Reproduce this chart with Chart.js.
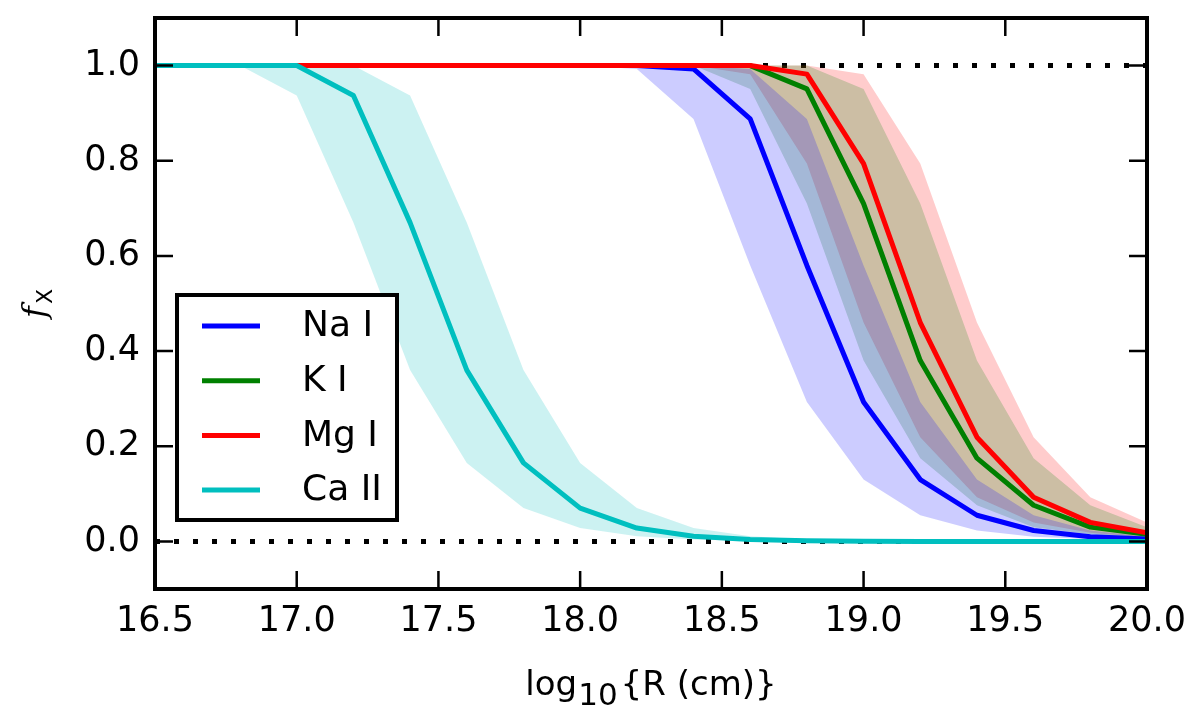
<!DOCTYPE html>
<html>
<head>
<meta charset="utf-8">
<script src="https://cdn.jsdelivr.net/npm/chart.js@4.4.0/dist/chart.umd.min.js"></script>
<style>
  html, body { margin: 0; padding: 0; background: #fff; }
  #chart { display: block; }
</style>
</head>
<body>
<canvas id="chart" width="1200" height="722"></canvas>
<script>
// log10 R grid (step 0.2)
const logR = [16.4, 16.6, 16.8, 17.0, 17.2, 17.4, 17.6, 17.8, 18.0, 18.2,
              18.4, 18.6, 18.8, 19.0, 19.2, 19.4, 19.6, 19.8, 20.0];

// ionisation fraction per species, with lower / upper edge of the shaded band
const naI   = [1, 1, 1, 1, 1, 1, 1, 1, 1, 1, 0.993, 0.888, 0.58, 0.293, 0.13, 0.055, 0.023, 0.01, 0.005];
const naLo  = [1, 1, 1, 1, 1, 1, 1, 1, 1, 0.993, 0.888, 0.58, 0.293, 0.13, 0.055, 0.023, 0.01, 0.005, 0.002];
const naHi  = [1, 1, 1, 1, 1, 1, 1, 1, 1, 1, 1, 0.993, 0.888, 0.58, 0.293, 0.13, 0.055, 0.023, 0.01];

const kI    = [1, 1, 1, 1, 1, 1, 1, 1, 1, 1, 1, 1, 0.951, 0.71, 0.38, 0.175, 0.076, 0.03, 0.015];
const kLo   = [1, 1, 1, 1, 1, 1, 1, 1, 1, 1, 1, 0.951, 0.71, 0.38, 0.175, 0.076, 0.03, 0.015, 0.007];
const kHi   = [1, 1, 1, 1, 1, 1, 1, 1, 1, 1, 1, 1, 1, 0.951, 0.71, 0.38, 0.175, 0.076, 0.03];

const mgI   = [1, 1, 1, 1, 1, 1, 1, 1, 1, 1, 1, 1, 0.982, 0.794, 0.46, 0.219, 0.093, 0.04, 0.018];
const mgLo  = [1, 1, 1, 1, 1, 1, 1, 1, 1, 1, 1, 0.982, 0.794, 0.46, 0.219, 0.093, 0.04, 0.018, 0.008];
const mgHi  = [1, 1, 1, 1, 1, 1, 1, 1, 1, 1, 1, 1, 1, 0.982, 0.794, 0.46, 0.219, 0.093, 0.04];

const caII  = [1, 1, 1, 1, 0.937, 0.67, 0.36, 0.165, 0.07, 0.028, 0.011, 0.004, 0.0015, 0.0005, 0, 0, 0, 0, 0];
const caLo  = [1, 1, 1, 0.937, 0.67, 0.36, 0.165, 0.07, 0.028, 0.011, 0.004, 0.0015, 0.0005, 0, 0, 0, 0, 0, 0];
const caHi  = [1, 1, 1, 1, 1, 0.937, 0.67, 0.36, 0.165, 0.07, 0.028, 0.011, 0.004, 0.0015, 0.0005, 0, 0, 0, 0];

const refLevels = [0, 1];
const xTicks = [16.5, 17.0, 17.5, 18.0, 18.5, 19.0, 19.5, 20.0];
const yTicks = [0.0, 0.2, 0.4, 0.6, 0.8, 1.0];

const pts = vals => logR.map((x, i) => ({ x: x, y: vals[i] }));

// later entries are drawn on top (lower order)
const species = [
  { label: 'Na I',  line: naI,  lo: naLo, hi: naHi, color: '#0000ff', band: 'rgba(0,0,255,0.2)',   order: 3.0 },
  { label: 'K I',   line: kI,   lo: kLo,  hi: kHi,  color: '#008000', band: 'rgba(0,128,0,0.2)',   order: 2.8 },
  { label: 'Mg I',  line: mgI,  lo: mgLo, hi: mgHi, color: '#ff0000', band: 'rgba(255,0,0,0.2)',   order: 2.6 },
  { label: 'Ca II', line: caII, lo: caLo, hi: caHi, color: '#00bfbf', band: 'rgba(0,191,191,0.2)', order: 1.0 }
];

const datasets = [];
refLevels.forEach(lv => {
  datasets.push({
    data: [{ x: xTicks[0], y: lv }, { x: xTicks[xTicks.length - 1], y: lv }],
    borderColor: '#000', borderWidth: 5, borderDash: [5, 14], borderCapStyle: 'butt',
    pointRadius: 0, fill: false, order: 6
  });
});
species.forEach(s => {
  const loIdx = datasets.length;
  datasets.push({ data: pts(s.lo), borderWidth: 0, pointRadius: 0, fill: false, order: 4 });
  datasets.push({ data: pts(s.hi), borderWidth: 0, pointRadius: 0, backgroundColor: s.band, fill: loIdx, order: 4 });
});
species.forEach(s => {
  datasets.push({
    label: s.label, inLegend: true, data: pts(s.line),
    borderColor: s.color, borderWidth: 5, borderJoinStyle: 'round',
    pointRadius: 0, fill: false, order: s.order
  });
});

const legendBox = {
  id: 'legendBox',
  afterDatasetsDraw(chart) {
    const { ctx, chartArea: a } = chart;
    const items = chart.data.datasets.filter(d => d.inLegend);
    const left = a.left + 22, top = a.top + 277, w = 220, h = 225;
    ctx.save();
    ctx.fillStyle = '#fff';
    ctx.fillRect(left, top, w, h);
    ctx.lineWidth = 4;
    ctx.strokeStyle = '#000';
    ctx.strokeRect(left, top, w, h);
    ctx.font = '36px "DejaVu Sans"';
    ctx.textBaseline = 'middle';
    items.forEach((d, i) => {
      const yy = top + 31 + i * 54.7;
      ctx.strokeStyle = d.borderColor;
      ctx.lineWidth = 5;
      ctx.beginPath();
      ctx.moveTo(left + 25, yy);
      ctx.lineTo(left + 83, yy);
      ctx.stroke();
      ctx.fillStyle = '#000';
      ctx.fillText(d.label, left + 125, yy + 1);
    });
    ctx.restore();
  }
};

const frameAndTitles = {
  id: 'frameAndTitles',
  afterDraw(chart) {
    const { ctx, chartArea: a, scales: { x, y } } = chart;
    ctx.save();
    ctx.strokeStyle = '#000';
    ctx.lineWidth = 2.5;
    ctx.beginPath();
    xTicks.forEach(v => {
      const px = x.getPixelForValue(v);
      ctx.moveTo(px, a.bottom); ctx.lineTo(px, a.bottom - 18);
      ctx.moveTo(px, a.top);    ctx.lineTo(px, a.top + 18);
    });
    yTicks.forEach(v => {
      const py = y.getPixelForValue(v);
      ctx.moveTo(a.left, py);  ctx.lineTo(a.left + 18, py);
      ctx.moveTo(a.right, py); ctx.lineTo(a.right - 18, py);
    });
    ctx.stroke();
    ctx.lineWidth = 4;
    ctx.strokeRect(a.left, a.top, a.right - a.left, a.bottom - a.top);

    // x title: log10{R (cm)}
    ctx.fillStyle = '#000';
    ctx.textBaseline = 'alphabetic';
    ctx.textAlign = 'left';
    const big = '34px "DejaVu Sans"', sub = '31px "DejaVu Sans"';
    ctx.font = big; const w1 = ctx.measureText('log').width;
    ctx.font = sub; const w2 = ctx.measureText('10').width;
    ctx.font = big; const w3 = ctx.measureText('{R (cm)}').width;
    let tx = (a.left + a.right) / 2 - (w1 + w2 + w3 + 4) / 2;
    const by = 695;
    ctx.font = big; ctx.fillText('log', tx, by); tx += w1 + 1;
    ctx.font = sub; ctx.fillText('10', tx, by + 10); tx += w2 + 3;
    ctx.font = big; ctx.fillText('{R (cm)}', tx, by);

    // y title: f_X
    ctx.translate(45, (a.top + a.bottom) / 2);
    ctx.rotate(-Math.PI / 2);
    ctx.font = 'italic 32px "DejaVu Serif"'; const wf = ctx.measureText('f').width;
    ctx.font = '22px "DejaVu Sans"'; const wx = ctx.measureText('X').width;
    const sx = -(wf + wx + 2) / 2;
    ctx.font = 'italic 32px "DejaVu Serif"'; ctx.fillText('f', sx, 0);
    ctx.font = '22px "DejaVu Sans"'; ctx.fillText('X', sx + wf + 2, 7);
    ctx.restore();
  }
};

new Chart(document.getElementById('chart'), {
  type: 'line',
  data: { datasets: datasets },
  options: {
    responsive: false,
    animation: false,
    devicePixelRatio: 1,
    layout: { padding: { top: 18, right: 53, left: 0, bottom: 0 } },
    plugins: { legend: { display: false }, tooltip: { enabled: false } },
    elements: { line: { tension: 0 }, point: { radius: 0 } },
    scales: {
      x: {
        type: 'linear', min: 16.5, max: 20.0,
        grid: { display: false, drawTicks: false },
        border: { display: false },
        ticks: {
          font: { family: 'DejaVu Sans', size: 35 }, color: '#000',
          padding: 12, maxRotation: 0, autoSkip: false,
          callback: v => Number(v).toFixed(1)
        },
        afterBuildTicks: s => { s.ticks = xTicks.map(v => ({ value: v })); },
        afterFit: s => { s.height = 133; s.paddingLeft = 0; s.paddingRight = 0; }
      },
      y: {
        type: 'linear', min: -0.1, max: 1.1,
        grid: { display: false, drawTicks: false },
        border: { display: false },
        ticks: {
          font: { family: 'DejaVu Sans', size: 35 }, color: '#000',
          padding: 15, autoSkip: false,
          callback: v => Number(v).toFixed(1)
        },
        afterBuildTicks: s => { s.ticks = yTicks.map(v => ({ value: v })); },
        afterFit: s => { s.width = 155; s.paddingTop = 0; s.paddingBottom = 0; }
      }
    }
  },
  plugins: [legendBox, frameAndTitles]
});
</script>
</body>
</html>
